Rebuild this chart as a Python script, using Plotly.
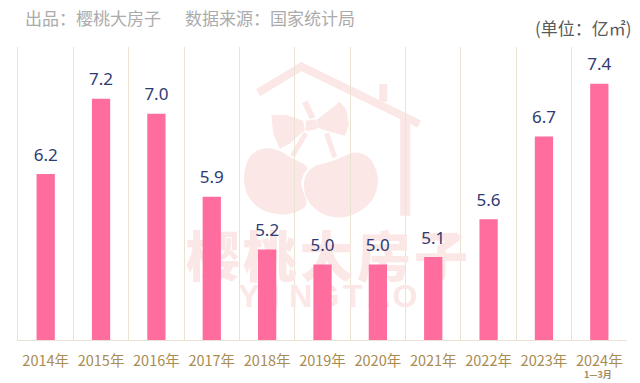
import plotly.graph_objects as go

W, H = 640, 383
L, R, T, B = 18.3, 627, 47, 340

years = ["2014年", "2015年", "2016年", "2017年", "2018年", "2019年", "2020年", "2021年", "2022年", "2023年", "2024年"]
values = [6.2, 7.2, 7.0, 5.9, 5.2, 5.0, 5.0, 5.1, 5.6, 6.7, 7.4]
value_labels = ["6.2", "7.2", "7.0", "5.9", "5.2", "5.0", "5.0", "5.1", "5.6", "6.7", "7.4"]

wm_title = list("樱桃大房子")
wm_latin = list("YINGTAO")

CJK = "Noto Sans CJK SC"
WM = "#FBE7E5"
GRID = "#EAE3D2"

def px(x):
    return (x - L) / (R - L)

def py(y):
    return (B - y) / (B - T)

def z(zx, zy):
    return px(170 + zx / 3), py(50 + zy / 3)

def path(points, close=True):
    parts = []
    for i, p in enumerate(points):
        a, b = z(*p)
        parts.append(("M" if i == 0 else "L") + f"{a:.4f},{b:.4f}")
    return " ".join(parts) + (" Z" if close else "")

def smooth(points):
    pts = [z(*p) for p in points]
    n = len(pts)
    mids = [((pts[i][0] + pts[(i + 1) % n][0]) / 2, (pts[i][1] + pts[(i + 1) % n][1]) / 2) for i in range(n)]
    d = f"M{mids[-1][0]:.4f},{mids[-1][1]:.4f}"
    for i in range(n):
        d += f" Q{pts[i][0]:.4f},{pts[i][1]:.4f} {mids[i][0]:.4f},{mids[i][1]:.4f}"
    return d + " Z"

def wm_blob(points):
    return dict(type="path", xref="paper", yref="paper", layer="below",
                path=smooth(points), fillcolor=WM, line=dict(width=0))

def wm_poly(points):
    return dict(type="path", xref="paper", yref="paper", layer="below",
                path=path(points), fillcolor=WM, line=dict(width=0))

def wm_line(points, w):
    return dict(type="path", xref="paper", yref="paper", layer="below",
                path=path(points, False), fillcolor="rgba(0,0,0,0)", line=dict(color=WM, width=w))

shapes = [
    wm_line([(265, 128), (395, 50), (748, 222)], 8),
    wm_line([(640, 102), (640, 155)], 8),
    wm_line([(706, 205), (706, 497)], 10),
    wm_blob([(290, 292), (330, 300), (365, 325), (420, 350), (398, 375), (392, 410), (418, 465),
             (375, 490), (330, 495), (275, 482), (235, 445), (220, 395), (228, 340), (250, 305)]),
    wm_blob([(470, 340), (510, 325), (555, 303), (600, 320), (623, 365), (625, 410), (605, 458),
             (560, 492), (510, 505), (460, 495), (420, 465), (400, 420), (405, 375), (435, 345)]),
    wm_poly([(305, 195), (350, 195), (400, 212), (405, 240), (360, 280), (330, 297), (310, 250)]),
    wm_poly([(440, 210), (510, 155), (530, 180), (537, 225), (525, 257), (480, 245), (440, 232)]),
    wm_poly([(408, 212), (438, 208), (442, 238), (408, 243)]),
    wm_line([(405, 155), (428, 205)], 6),
    wm_line([(408, 250), (368, 318)], 5),
    wm_line([(470, 250), (495, 322)], 5),
]

annotations = []

def text(x, y, s, size, color, anchor="left", family=CJK, bold=False):
    annotations.append(dict(
        xref="paper", yref="paper", x=px(x), y=py(y), text=f"<b>{s}</b>" if bold else s,
        showarrow=False, xanchor=anchor, yanchor="middle",
        font=dict(size=size, color=color, family=family)))

text(23, 17, "出品：樱桃大房子", 17, "#ABABAB")
text(183, 17, "数据来源：国家统计局", 17, "#ABABAB")
text(634, 28, "(单位：亿㎡)", 17, "#5A5A5A", anchor="right")
text(598, 374, "1—3月", 9, "#A08A58", anchor="center", bold=True)

fig = go.Figure()

# watermark lettering sits on the lower subplot, underneath the bars
fig.add_trace(go.Scatter(
    x=[213 + i * 57 for i in range(len(wm_title))], y=[263] * len(wm_title),
    text=wm_title, mode="text", xaxis="x", yaxis="y",
    textfont=dict(size=54, color=WM, family=CJK, weight=900), hoverinfo="skip", cliponaxis=False))
fig.add_trace(go.Scatter(
    x=[249 + i * 26 for i in range(len(wm_latin))], y=[299] * len(wm_latin),
    text=wm_latin, mode="text", xaxis="x", yaxis="y",
    textfont=dict(size=32, color=WM, family="Liberation Sans", weight="bold"), hoverinfo="skip", cliponaxis=False))

fig.add_trace(go.Bar(
    x=years, y=values, width=0.33, xaxis="x2", yaxis="y2",
    marker=dict(color="#FF6D9F", line=dict(width=0)),
    hoverinfo="skip",
))
# value labels, lifted above the bars by a transparent marker
fig.add_trace(go.Scatter(
    x=years, y=values, xaxis="x2", yaxis="y2", mode="markers+text",
    marker=dict(size=13, opacity=0), text=value_labels, textposition="top center",
    textfont=dict(size=17, color="#2E3A72", family="Noto Sans"),
    hoverinfo="skip", cliponaxis=False,
))

fig.update_layout(
    width=W, height=H, autosize=False,
    margin=dict(l=L, r=W - R, t=T, b=H - B),
    paper_bgcolor="white", plot_bgcolor="rgba(0,0,0,0)",
    showlegend=False, shapes=shapes, annotations=annotations,
    font=dict(family=CJK),
    xaxis=dict(range=[L, R], visible=False),
    yaxis=dict(range=[B, T], visible=False),
    xaxis2=dict(type="category", overlaying="x", anchor="y2", tickson="boundaries",
                range=[-0.5, 10.5], tickangle=0, automargin=False,
                showgrid=True, gridcolor=GRID, gridwidth=1,
                showline=True, linecolor=GRID, linewidth=1, ticks="",
                tickfont=dict(size=14.5, color="#A88C52", family=CJK), ticklabelstandoff=8),
    yaxis2=dict(overlaying="y", anchor="x2", range=[4, 7.886], showgrid=False, zeroline=False,
                showticklabels=False, showline=True, linecolor=GRID, linewidth=1, ticks=""),
)

fig.write_html("out.html", config=dict(displayModeBar=False),
               post_script="document.body.style.margin='0';document.documentElement.style.overflow='hidden';")
